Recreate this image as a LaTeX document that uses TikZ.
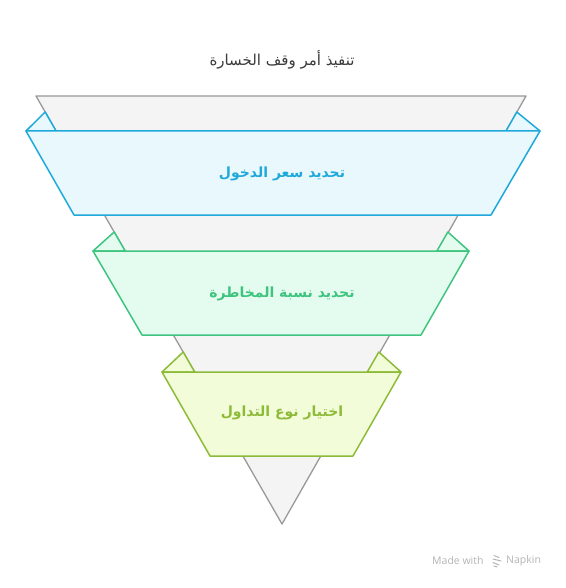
\documentclass[tikz,border=0pt]{standalone}
\usepackage{fontspec}
\TeXXeTstate=1
\newfontfamily\arabicfont[Script=Arabic]{DejaVu Sans}
\newfontfamily\wmfont{Open Sans}
\definecolor{grayS}{HTML}{999999}
\definecolor{grayF}{HTML}{F4F4F4}
\definecolor{blueS}{HTML}{1FA9DA}
\definecolor{blueF}{HTML}{E8F8FD}
\definecolor{greenS}{HTML}{3EC47F}
\definecolor{greenF}{HTML}{E4FCEF}
\definecolor{limeS}{HTML}{8DBB38}
\definecolor{limeF}{HTML}{F3FCD8}
\definecolor{titleC}{HTML}{3A3A3A}
\definecolor{wmC}{HTML}{B4B4B4}
\begin{document}
\begin{tikzpicture}[x=1pt,y=-1pt,
  band/.style={line width=1.5pt,line join=round},
  lbl/.style={font=\arabicfont\bfseries\fontsize{14}{16}\selectfont,inner sep=0pt},
  ttl/.style={font=\arabicfont\fontsize{15}{17}\selectfont,text=titleC,inner sep=0pt},
  wm/.style={font=\wmfont\fontsize{10.5}{12}\selectfont,text=wmC,inner sep=0pt}]
\useasboundingbox (0,0) rectangle (565,588);
% funnel
\draw[band,draw=grayS,fill=grayF,line width=1.3pt] (36,96) -- (526,96) -- (282,524) -- cycle;
% blue band
\filldraw[band,draw=blueS,fill=blueF] (26,131) -- (45.2,112) -- (56.1,131) -- cycle;
\filldraw[band,draw=blueS,fill=blueF] (540,131) -- (516.8,112) -- (506,131) -- cycle;
\filldraw[band,draw=blueS,fill=blueF] (26,131) -- (540,131) -- (491,215) -- (74,215) -- cycle;
% green band
\filldraw[band,draw=greenS,fill=greenF] (93,251) -- (114.2,232) -- (125.2,251) -- cycle;
\filldraw[band,draw=greenS,fill=greenF] (469,251) -- (447.8,232) -- (436.9,251) -- cycle;
\filldraw[band,draw=greenS,fill=greenF] (93,251) -- (469,251) -- (421,335) -- (142,335) -- cycle;
% lime band
\filldraw[band,draw=limeS,fill=limeF] (162,372) -- (183.2,352) -- (194.7,372) -- cycle;
\filldraw[band,draw=limeS,fill=limeF] (401,372) -- (378.8,352) -- (367.3,372) -- cycle;
\filldraw[band,draw=limeS,fill=limeF] (162,372) -- (401,372) -- (353,456) -- (210,456) -- cycle;
% texts
\node[ttl] (title) at (282,60) {\beginR تنفيذ أمر وقف الخسارة\endR};
\node[lbl,text=blueS] (l1) at (282,174) {\beginR تحديد سعر الدخول\endR};
\node[lbl,text=greenS] (l2) at (282,294) {\beginR تحديد نسبة المخاطرة\endR};
\node[lbl,text=limeS] (l3) at (282,413) {\beginR اختيار نوع التداول\endR};
% watermark
\node[wm,anchor=west] (wm1) at (432,561) {Made with};
\node[wm,anchor=west] (wm2) at (506,561) {Napkin};
\draw[wmC,line width=1pt,line cap=round] (494,555.5) -- (499,557.5) (493,559) -- (501,561) (493,562.5) -- (499,565) (494,566) -- (497,567);
\end{tikzpicture}
\end{document}
